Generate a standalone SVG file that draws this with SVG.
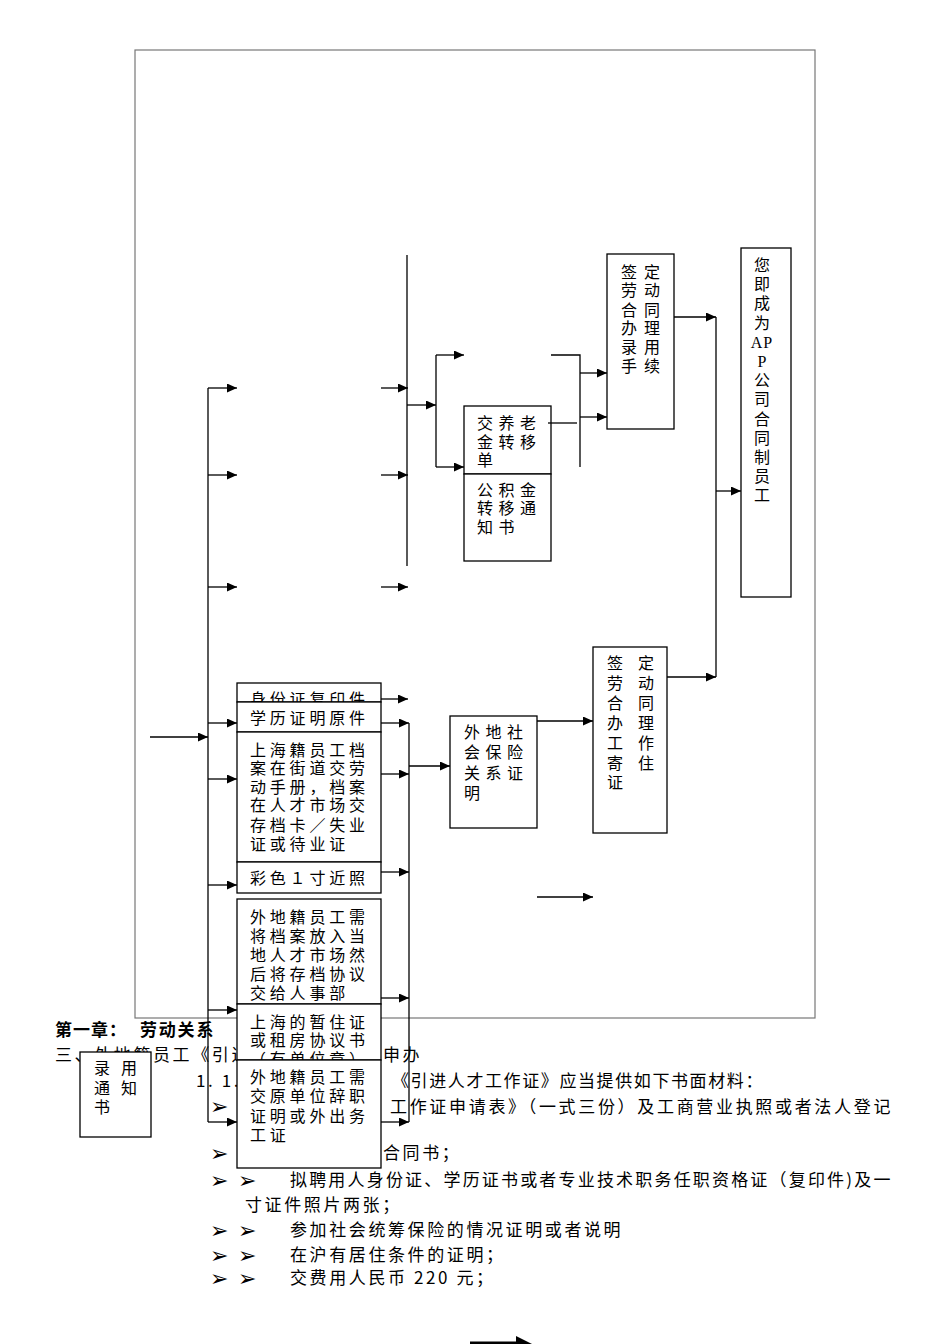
<svg xmlns="http://www.w3.org/2000/svg" width="950" height="1344" viewBox="0 0 950 1344">
<defs>
<marker id="ah" markerUnits="userSpaceOnUse" markerWidth="11" markerHeight="9" refX="10" refY="4.5" orient="auto">
<path d="M0,0 L10,4.5 L0,9 z" fill="#000"/>
</marker>
</defs>
<style>
.box{fill:#fff;stroke:#000;stroke-width:1.3}
.t{font-family:"Noto Sans CJK SC","Noto Sans CJK JP",sans-serif;font-size:16px;fill:#000}
.s{letter-spacing:3.8px}
.b{font-family:"Noto Sans CJK SC","Noto Sans CJK JP",sans-serif;font-size:17px;fill:#000;letter-spacing:2.6px}
.h{font-family:"Noto Sans CJK SC","Noto Sans CJK JP",sans-serif;font-size:17px;font-weight:bold;fill:#000}
.m{font-family:"DejaVu Sans",sans-serif;font-size:22px;fill:#000}
.c{stroke:#000;stroke-width:1.3;fill:none}
.a{marker-end:url(#ah)}
</style>
<rect width="950" height="1344" fill="#fff"/>
<g id="frame"><rect x="135" y="50" width="680" height="968" fill="none" stroke="#777" stroke-width="1.2"/></g>
<g id="page-text">
<text class="h" x="55" y="1036" letter-spacing="1">第一章：</text>
<text class="h" x="140" y="1036" letter-spacing="1.8">劳动关系</text>
<text class="b" x="55" y="1061">三、外地籍员工《引进</text>
<text class="b" x="383" y="1061">申办</text>
<text class="b" x="196" y="1087" letter-spacing="0">1. 1.</text>
<text class="b" x="392" y="1087" textLength="373" lengthAdjust="spacing">《引进人才工作证》应当提供如下书面材料：</text>
<text class="m" x="210" y="1114">➢</text>
<text class="b" x="390" y="1113" textLength="503" lengthAdjust="spacing">工作证申请表》（一式三份）及工商营业执照或者法人登记</text>
<text class="m" x="210" y="1161">➢</text>
<text class="b" x="383" y="1159">合同书；</text>
<text class="m" x="210" y="1188">➢</text><text class="m" x="238" y="1188">➢</text>
<text class="b" x="290" y="1186" textLength="603" lengthAdjust="spacing">拟聘用人身份证、学历证书或者专业技术职务任职资格证（复印件)及一</text>
<text class="b" x="245" y="1211">寸证件照片两张；</text>
<text class="m" x="210" y="1238">➢</text><text class="m" x="238" y="1238">➢</text>
<text class="b" x="290" y="1236">参加社会统筹保险的情况证明或者说明</text>
<text class="m" x="210" y="1263">➢</text><text class="m" x="238" y="1263">➢</text>
<text class="b" x="290" y="1261">在沪有居住条件的证明；</text>
<text class="m" x="210" y="1286">➢</text><text class="m" x="238" y="1286">➢</text>
<text class="b" x="290" y="1284">交费用人民币 220 元；</text>
</g>
<g id="n-hire">
<rect class="box" x="80" y="1052" width="71" height="85"/>
<text class="t" x="94" y="1074" letter-spacing="11">录用</text>
<text class="t" x="94" y="1094" letter-spacing="11">通知</text>
<text class="t" x="94" y="1113">书</text>
</g>
<g id="n-id">
<rect class="box" x="237" y="683" width="144" height="19"/>
<text class="t s" x="250" y="705">身份证复印件</text>
</g>
<g id="n-degree">
<rect class="box" x="237" y="702" width="144" height="30"/>
<text class="t s" x="250" y="724">学历证明原件</text>
</g>
<g id="n-sh-file">
<rect class="box" x="237" y="732" width="144" height="130"/>
<text class="t s" x="250" y="756">上海籍员工档</text>
<text class="t s" x="250" y="774">案在街道交劳</text>
<text class="t s" x="250" y="793">动手册，档案</text>
<text class="t s" x="250" y="811">在人才市场交</text>
<text class="t s" x="250" y="831">存档卡／失业</text>
<text class="t s" x="250" y="850">证或待业证</text>
</g>
<g id="n-photo">
<rect class="box" x="237" y="862" width="144" height="31"/>
<text class="t s" x="250" y="884">彩色１寸近照</text>
</g>
<g id="n-out-file">
<rect class="box" x="237" y="899" width="144" height="105"/>
<text class="t s" x="250" y="923">外地籍员工需</text>
<text class="t s" x="250" y="942">将档案放入当</text>
<text class="t s" x="250" y="961">地人才市场然</text>
<text class="t s" x="250" y="980">后将存档协议</text>
<text class="t s" x="250" y="999">交给人事部</text>
</g>
<g id="n-residence">
<rect class="box" x="237" y="1004" width="144" height="56"/>
<text class="t s" x="250" y="1028">上海的暂住证</text>
<text class="t s" x="250" y="1046">或租房协议书</text>
<text class="t s" x="250" y="1065">（有单位章）</text>
</g>
<g id="n-resign">
<rect class="box" x="237" y="1060" width="144" height="108"/>
<text class="t s" x="250" y="1083">外地籍员工需</text>
<text class="t s" x="250" y="1102">交原单位辞职</text>
<text class="t s" x="250" y="1122">证明或外出务</text>
<text class="t s" x="250" y="1141">工证</text>
</g>
<g id="n-pension">
<rect class="box" x="464" y="406" width="87" height="68"/>
<text class="t" x="477" y="429" letter-spacing="5.5">交养老</text>
<text class="t" x="477" y="448" letter-spacing="5.5">金转移</text>
<text class="t" x="477" y="466">单</text>
</g>
<g id="n-fund">
<rect class="box" x="464" y="474" width="87" height="87"/>
<text class="t" x="477" y="496" letter-spacing="5.5">公积金</text>
<text class="t" x="477" y="514" letter-spacing="5.5">转移通</text>
<text class="t" x="477" y="533" letter-spacing="5.5">知书</text>
</g>
<g id="n-contract1">
<rect class="box" x="607" y="254" width="67" height="175"/>
<text class="t" x="621" y="278" letter-spacing="7">签定</text>
<text class="t" x="621" y="296" letter-spacing="7">劳动</text>
<text class="t" x="621" y="316" letter-spacing="7">合同</text>
<text class="t" x="621" y="334" letter-spacing="7">办理</text>
<text class="t" x="621" y="353" letter-spacing="7">录用</text>
<text class="t" x="621" y="372" letter-spacing="7">手续</text>
</g>
<g id="n-result">
<rect class="box" x="741" y="248" width="50" height="349"/>
<g class="t" text-anchor="middle">
<text x="762" y="271">您</text>
<text x="762" y="290">即</text>
<text x="762" y="309">成</text>
<text x="762" y="329">为</text>
<text x="762" y="348" font-family="Liberation Serif, serif" letter-spacing="1">AP</text>
<text x="762" y="367" font-family="Liberation Serif, serif">P</text>
<text x="762" y="386">公</text>
<text x="762" y="405">司</text>
<text x="762" y="425">合</text>
<text x="762" y="444">同</text>
<text x="762" y="463">制</text>
<text x="762" y="482">员</text>
<text x="762" y="501">工</text>
</g>
</g>
<g id="n-social">
<rect class="box" x="450" y="716" width="87" height="112"/>
<text class="t" x="464" y="738" letter-spacing="5.5">外地社</text>
<text class="t" x="464" y="758" letter-spacing="5.5">会保险</text>
<text class="t" x="464" y="779" letter-spacing="5.5">关系证</text>
<text class="t" x="464" y="799">明</text>
</g>
<g id="n-contract2">
<rect class="box" x="593" y="647" width="74" height="186"/>
<text class="t" x="607" y="669" letter-spacing="15">签定</text>
<text class="t" x="607" y="689" letter-spacing="15">劳动</text>
<text class="t" x="607" y="709" letter-spacing="15">合同</text>
<text class="t" x="607" y="729" letter-spacing="15">办理</text>
<text class="t" x="607" y="749" letter-spacing="15">工作</text>
<text class="t" x="607" y="769" letter-spacing="15">寄住</text>
<text class="t" x="607" y="788">证</text>
</g>
<g id="connectors">
<path class="c" d="M208,388 V1122"/>
<path class="c a" d="M150,737 H208"/>
<path class="c a" d="M208,388 H237"/>
<path class="c a" d="M208,475 H237"/>
<path class="c a" d="M208,587 H237"/>
<path class="c a" d="M208,723 H237"/>
<path class="c a" d="M208,779 H237"/>
<path class="c a" d="M208,885 H237"/>
<path class="c a" d="M208,1010 H237"/>
<path class="c a" d="M208,1122 H237"/>
<path class="c a" d="M381,388 H408"/>
<path class="c a" d="M381,475 H408"/>
<path class="c a" d="M381,587 H408"/>
<path class="c" d="M407,255 V566"/>
<path class="c a" d="M407,405 H436"/>
<path class="c" d="M436,355 V467"/>
<path class="c a" d="M436,355 H464"/>
<path class="c a" d="M436,467 H464"/>
<path class="c" d="M551,355 H580 V467"/>
<path class="c" d="M548,423 H577"/>
<path class="c a" d="M580,373 H607"/>
<path class="c a" d="M580,417 H607"/>
<path class="c a" d="M674,317 H716"/>
<path class="c" d="M716,317 V677"/>
<path class="c a" d="M716,491 H741"/>
<path class="c a" d="M667,677 H716"/>
<path class="c a" d="M381,699 H408"/>
<path class="c a" d="M381,723 H409"/>
<path class="c a" d="M381,774 H409"/>
<path class="c a" d="M381,872 H409"/>
<path class="c a" d="M381,998 H409"/>
<path class="c a" d="M381,1122 H409"/>
<path class="c" d="M409,723 V1122"/>
<path class="c a" d="M409,766 H450"/>
<path class="c a" d="M537,721 H593"/>
<path class="c a" d="M537,897 H593"/>
<path d="M470,1343 H518" stroke="#000" stroke-width="3" fill="none"/>
<path d="M516,1336 L532,1344 L516,1352 z" fill="#000"/>
</g>
</svg>
